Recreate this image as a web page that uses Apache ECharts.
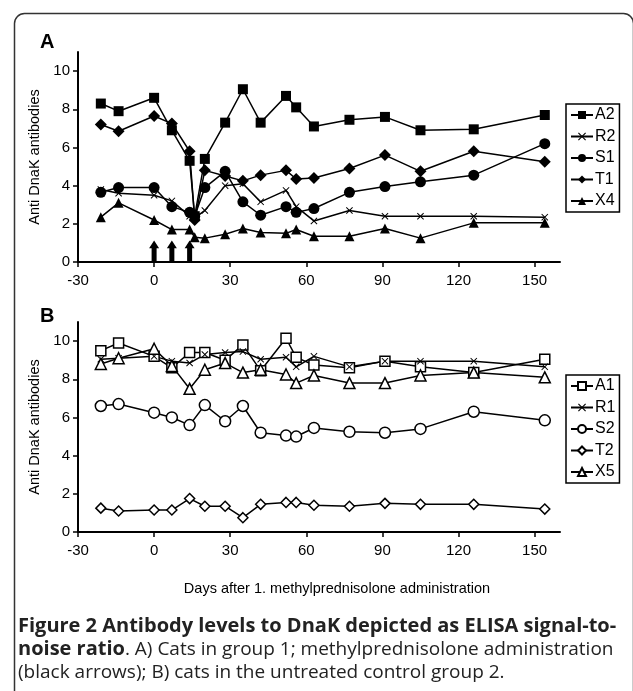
<!DOCTYPE html>
<html>
<head>
<meta charset="utf-8">
<script src="https://cdn.jsdelivr.net/npm/echarts@6.0.0/dist/echarts.min.js"></script>
<style>
  html, body { margin: 0; padding: 0; background: #fff; }
  #chart { width: 633px; height: 691px; }
</style>
</head>
<body>
<div id="chart"></div>
<script>
// days of sampling
var daysA = [-21, -14, 0, 7, 14, 16, 20, 28, 35, 42, 52, 56, 63, 77, 91, 105, 126, 154];
var daysB = [-21, -14, 0, 7, 14, 20, 28, 35, 42, 52, 56, 63, 77, 91, 105, 126, 154];

// group 1 (panel A)
var a2 = [8.3, 7.9, 8.6, 6.9, 5.3, 2.4, 5.4, 7.3, 9.05, 7.3, 8.7, 8.1, 7.1, 7.45, 7.6, 6.9, 6.95, 7.7];
var r2 = [3.8, 3.6, 3.5, 3.2, 2.4, 2.3, 2.7, 4.0, 4.1, 3.15, 3.75, 2.9, 2.15, 2.7, 2.4, 2.4, 2.4, 2.35];
var s1 = [3.65, 3.9, 3.9, 2.9, 2.6, 2.4, 3.9, 4.75, 3.15, 2.45, 2.9, 2.6, 2.8, 3.65, 3.95, 4.2, 4.55, 6.2];
var t1 = [7.2, 6.85, 7.65, 7.25, 5.8, 2.2, 4.8, 4.5, 4.25, 4.55, 4.8, 4.35, 4.4, 4.9, 5.6, 4.75, 5.8, 5.25];
var x4 = [2.35, 3.1, 2.2, 1.7, 1.7, 1.3, 1.25, 1.45, 1.75, 1.55, 1.5, 1.7, 1.35, 1.35, 1.75, 1.25, 2.05, 2.05];

// group 2 (panel B)
var a1 = [9.5, 9.9, 9.2, 8.6, 9.4, 9.4, 9.0, 9.8, 8.45, 10.15, 9.15, 8.75, 8.6, 8.95, 8.65, 8.35, 9.05];
var r1 = [9.05, 9.1, 9.2, 8.95, 8.85, 9.3, 9.4, 9.45, 9.05, 9.15, 8.65, 9.2, 8.65, 8.95, 8.95, 8.95, 8.65];
var s2 = [6.6, 6.7, 6.25, 6.0, 5.6, 6.65, 5.8, 6.6, 5.2, 5.05, 5.0, 5.45, 5.25, 5.2, 5.4, 6.3, 5.85];
var t2 = [1.25, 1.1, 1.15, 1.15, 1.75, 1.35, 1.35, 0.75, 1.45, 1.55, 1.55, 1.4, 1.35, 1.5, 1.45, 1.45, 1.2];
var x5 = [8.8, 9.1, 9.6, 8.7, 7.5, 8.5, 8.85, 8.35, 8.5, 8.25, 7.8, 8.2, 7.8, 7.8, 8.2, 8.35, 8.1];

// methylprednisolone administrations
var arrowDays = [0, 7, 14];

var xTicks = [-30, 0, 30, 60, 90, 120, 150];
var yTicks = [0, 2, 4, 6, 8, 10];

var FONT = 'Liberation Sans, Arial, sans-serif';
var crossPath = 'path://M0,1 L1,0 L5,4 L9,0 L10,1 L6,5 L10,9 L9,10 L5,6 L1,10 L0,9 L4,5 Z';
var arrowPath = 'path://M5,0 L10,8 L7.5,8 L7.5,22 L2.5,22 L2.5,8 L0,8 Z';

function pairs(days, vals) {
  return days.map(function (d, i) { return [d, vals[i]]; });
}

function xAx(idx, withName) {
  var ax = {
    type: 'value', gridIndex: idx, min: -30, max: 160,
    axisLine: { lineStyle: { color: '#000', width: 2 } },
    axisTick: { length: 5, customValues: xTicks, lineStyle: { color: '#000', width: 1.5 } },
    axisLabel: { customValues: xTicks, color: '#000', fontSize: 15, fontFamily: FONT, margin: 11 },
    splitLine: { show: false }
  };
  if (withName) {
    ax.name = 'Days after 1. methylprednisolone administration';
    ax.nameLocation = 'middle';
    ax.nameGap = 49;
    ax.nameTextStyle = { color: '#000', fontSize: 14.5, fontFamily: FONT, padding: [0, 0, 0, 36] };
  }
  return ax;
}

function yAx(idx) {
  return {
    type: 'value', gridIndex: idx, min: 0, max: 11,
    name: 'Anti DnaK antibodies', nameLocation: 'middle', nameGap: 28,
    nameTextStyle: { color: '#000', fontSize: 14.5, fontFamily: FONT },
    axisLine: { show: true, onZero: false, lineStyle: { color: '#000', width: 2 } },
    axisTick: { show: true, length: 5, customValues: yTicks, lineStyle: { color: '#000', width: 1.5 } },
    axisLabel: { customValues: yTicks, color: '#000', fontSize: 15, fontFamily: FONT, margin: 8 },
    splitLine: { show: false }
  };
}

function ser(name, idx, days, vals, symbol, size, open) {
  return {
    name: name, type: 'line', xAxisIndex: idx, yAxisIndex: idx,
    data: pairs(days, vals),
    symbol: symbol, symbolSize: size,
    showAllSymbol: true,
    lineStyle: { color: '#000', width: 1.5 },
    itemStyle: open
      ? { color: '#fff', borderColor: '#000', borderWidth: 1.5 }
      : { color: '#000', borderColor: '#000', borderWidth: 0 },
    emphasis: { disabled: true },
    z: 3
  };
}

function legend(names, top) {
  return {
    data: names, orient: 'vertical', left: 566, top: top,
    itemWidth: 22, itemHeight: 10, itemGap: 5.5,
    padding: [3, 4, 3, 4],
    borderColor: '#000', borderWidth: 1.5,
    textStyle: { color: '#000', fontSize: 16, fontFamily: FONT, padding: [0, 0, 0, -3] },
    selectedMode: false
  };
}

var chart = echarts.init(document.getElementById('chart'));
chart.setOption({
  animation: false,
  backgroundColor: '#fff',
  grid: [
    { left: 78, top: 52, width: 482, height: 210 },
    { left: 78, top: 322, width: 482, height: 210 }
  ],
  xAxis: [xAx(0, false), xAx(1, true)],
  yAxis: [yAx(0), yAx(1)],
  legend: [
    legend(['A2', 'R2', 'S1', 'T1', 'X4'], 104),
    legend(['A1', 'R1', 'S2', 'T2', 'X5'], 375)
  ],
  series: [
    ser('A2', 0, daysA, a2, 'rect', 10, false),
    ser('R2', 0, daysA, r2, crossPath, 7, false),
    ser('S1', 0, daysA, s1, 'circle', 11, false),
    ser('T1', 0, daysA, t1, 'diamond', 12, false),
    ser('X4', 0, daysA, x4, 'triangle', 10, false),
    ser('A1', 1, daysB, a1, 'rect', 10, true),
    ser('R1', 1, daysB, r1, crossPath, 7, false),
    ser('S2', 1, daysB, s2, 'circle', 11, true),
    ser('T2', 1, daysB, t2, 'diamond', 10, true),
    ser('X5', 1, daysB, x5, 'triangle', 11, true),
    {
      name: 'arrows', type: 'scatter', xAxisIndex: 0, yAxisIndex: 0,
      data: arrowDays.map(function (d) { return [d, 0]; }),
      symbol: arrowPath, symbolSize: [10, 21], symbolKeepAspect: false,
      symbolOffset: [0, -11],
      itemStyle: { color: '#000', opacity: 1 },
      emphasis: { disabled: true },
      z: 2
    }
  ],
  graphic: [
    {
      type: 'rect', left: 12, top: 11, z: -1,
      shape: { width: 619, height: 700, r: 10 },
      style: { fill: 'none', stroke: '#333', lineWidth: 1.5 }
    },
    { type: 'text', left: 40, top: 32, style: { text: 'A', font: 'bold 20px ' + FONT, fill: '#000' } },
    { type: 'text', left: 40, top: 306, style: { text: 'B', font: 'bold 20px ' + FONT, fill: '#000' } },
    {
      type: 'text', left: 18, top: 616,
      style: {
        text: '{b|Figure 2 Antibody levels to DnaK depicted as ELISA signal-to-}\n' +
              '{b|noise ratio}{r|. A) Cats in group 1; methylprednisolone administration}\n' +
              '{r|(black arrows); B) cats in the untreated control group 2.}',
        rich: {
          b: { font: 'bold 20px Open Sans, sans-serif', fill: '#222', lineHeight: 23.5 },
          r: { font: '19px Open Sans, sans-serif', fill: '#222', lineHeight: 23.5 }
        }
      }
    }
  ]
});
</script>
</body>
</html>
